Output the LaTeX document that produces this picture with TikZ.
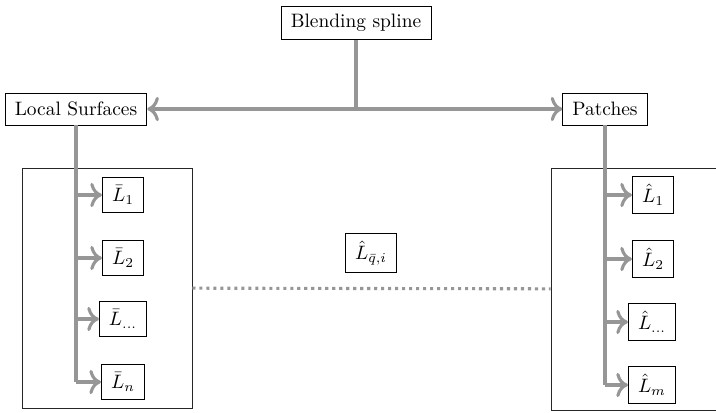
\documentclass[tikz,border=0pt]{standalone}
\usetikzlibrary{arrows.meta}
\definecolor{wire}{RGB}{150,150,150}
\tikzset{
  >={Computer Modern Rightarrow[length=6pt,width=12.5pt]},
  box/.style={draw=black,thin,fill=white,inner xsep=5pt,inner ysep=4pt,minimum height=16.5pt},
  link/.style={draw=wire,line width=1.6pt},
  group/.style={draw=black!85,thin,inner sep=0pt},
}
\begin{document}
\begin{tikzpicture}[x=0.515pt,y=-0.515pt]
  \useasboundingbox (0,0) rectangle (716,412);
  % containers
  \node[group,minimum width=87.55pt,minimum height=123.6pt] (lgroup) at (107,288) {};
  \node[group,minimum width=96.8pt,minimum height=124.6pt] (rgroup) at (645,289) {};
  \draw[link,dotted] (lgroup) -- (rgroup);
  % top
  \node[box] (blend) at (356,23) {Blending spline};
  \node[box] (local) at (76,109) {Local Surfaces};
  \node[box] (patch) at (605,109) {Patches};
  \draw[link,<->] (local) -- (patch);
  \draw[link] (blend) -- (blend |- local);
  \node[box] (qlabel) at (371,253) {$\hat{L}_{\bar{q},i}$};
  % left side
  \foreach \i/\t/\x/\y in {1/1/123/195, 2/2/123/258, 3/{\dots}/123/319, 4/n/123/382}
    \node[box] (lbar\i) at (\x,\y) {$\bar{L}_{\t}$};
  \draw[link] (local.south) -- (local |- lbar4);
  \foreach \i in {1,...,4}
    \draw[link,->] (local |- lbar\i) -- (lbar\i);
  % right side
  \foreach \i/\t/\x/\y in {1/1/653/195, 2/2/653/259, 3/{\dots}/652/322, 4/m/652/385}
    \node[box] (lhat\i) at (\x,\y) {$\hat{L}_{\t}$};
  \draw[link] (patch.south) -- (patch |- lhat4);
  \foreach \i in {1,...,4}
    \draw[link,->] (patch |- lhat\i) -- (lhat\i);
\end{tikzpicture}
\end{document}
